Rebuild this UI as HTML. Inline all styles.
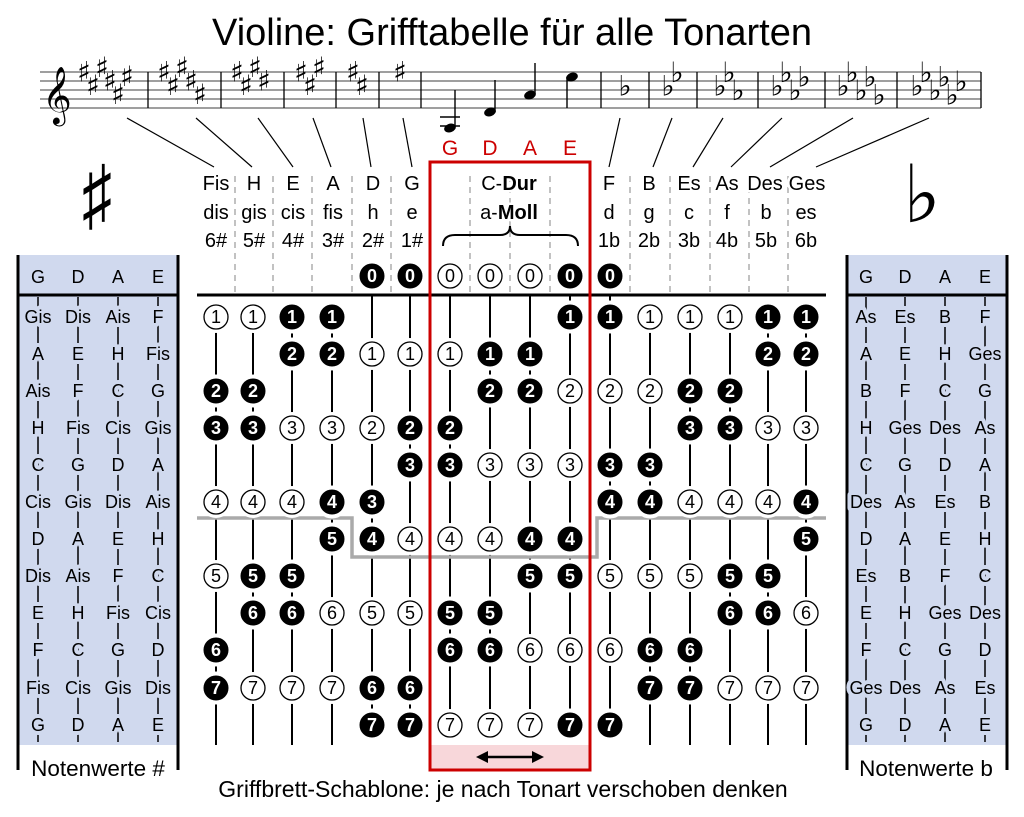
<!DOCTYPE html>
<html><head><meta charset="utf-8"><style>
html,body{margin:0;padding:0;background:#fff}
svg{display:block}
text{font-family:"Liberation Sans",sans-serif}
.tf{fill:#fff;font-weight:bold;font-size:18px;text-anchor:middle}
.to{fill:#000;font-size:18px;text-anchor:middle}
.h{font-size:20px;text-anchor:middle;paint-order:stroke;stroke:#fff;stroke-width:5px;stroke-linejoin:round}
.tb{font-size:18px;text-anchor:middle;paint-order:stroke;stroke:#d0d9ee;stroke-width:8px;stroke-linejoin:round}
.acc{font-family:"DejaVu Sans",sans-serif;font-size:28px;text-anchor:middle;dominant-baseline:central}
</style></head><body>
<svg width="1024" height="817" viewBox="0 0 1024 817" xmlns="http://www.w3.org/2000/svg">
<defs>
<circle id="F" r="14.5" fill="#000" stroke="#fff" stroke-width="4"/>
<g id="O"><circle r="16" fill="#fff"/><circle r="12" fill="#fff" stroke="#000" stroke-width="1.3"/></g>
</defs>
<text x="512" y="45" font-size="38" text-anchor="middle">Violine: Grifftabelle für alle Tonarten</text>
<g stroke="#666" stroke-width="1.3">
<line x1="40" y1="72" x2="981" y2="72"/><line x1="40" y1="81" x2="981" y2="81"/><line x1="40" y1="90" x2="981" y2="90"/><line x1="40" y1="99" x2="981" y2="99"/><line x1="40" y1="108" x2="981" y2="108"/>
</g>
<g stroke="#000" stroke-width="1.3">
<line x1="148" y1="72" x2="148" y2="108"/><line x1="221" y1="72" x2="221" y2="108"/><line x1="284" y1="72" x2="284" y2="108"/><line x1="336" y1="72" x2="336" y2="108"/><line x1="379" y1="72" x2="379" y2="108"/><line x1="421" y1="72" x2="421" y2="108"/><line x1="601" y1="72" x2="601" y2="108"/><line x1="649" y1="72" x2="649" y2="108"/><line x1="697" y1="72" x2="697" y2="108"/><line x1="758" y1="72" x2="758" y2="108"/><line x1="825" y1="72" x2="825" y2="108"/><line x1="897" y1="72" x2="897" y2="108"/><line x1="981" y1="72" x2="981" y2="108"/>
</g>
<text x="57" y="112" font-family="DejaVu Sans" font-size="50" text-anchor="middle">𝄞</text>
<g>
<text class="acc" x="84" y="72">♯</text><text class="acc" x="93" y="85.5">♯</text><text class="acc" x="102" y="67.5">♯</text><text class="acc" x="110" y="81">♯</text><text class="acc" x="118" y="94.5">♯</text><text class="acc" x="127" y="76.5">♯</text>
<text class="acc" x="164" y="72">♯</text><text class="acc" x="173" y="85.5">♯</text><text class="acc" x="182" y="67.5">♯</text><text class="acc" x="191" y="81">♯</text><text class="acc" x="200" y="94.5">♯</text>
<text class="acc" x="237" y="72">♯</text><text class="acc" x="246" y="85.5">♯</text><text class="acc" x="255" y="67.5">♯</text><text class="acc" x="264" y="81">♯</text>
<text class="acc" x="301" y="72">♯</text><text class="acc" x="310" y="85.5">♯</text><text class="acc" x="319" y="67.5">♯</text>
<text class="acc" x="353" y="72">♯</text><text class="acc" x="362" y="85.5">♯</text>
<text class="acc" x="400" y="72">♯</text>
<text class="acc" x="625" y="86">♭</text>
<text class="acc" x="668" y="86">♭</text><text class="acc" x="677" y="72.5">♭</text>
<text class="acc" x="720" y="86">♭</text><text class="acc" x="729" y="72.5">♭</text><text class="acc" x="738" y="90.5">♭</text>
<text class="acc" x="777" y="86">♭</text><text class="acc" x="786" y="72.5">♭</text><text class="acc" x="795" y="90.5">♭</text><text class="acc" x="804" y="77">♭</text>
<text class="acc" x="843" y="86">♭</text><text class="acc" x="852" y="72.5">♭</text><text class="acc" x="861" y="90.5">♭</text><text class="acc" x="870" y="77">♭</text><text class="acc" x="879" y="95">♭</text>
<text class="acc" x="917" y="86">♭</text><text class="acc" x="926" y="72.5">♭</text><text class="acc" x="935" y="90.5">♭</text><text class="acc" x="944" y="77">♭</text><text class="acc" x="952" y="95">♭</text><text class="acc" x="961" y="81.5">♭</text>
</g>
<g stroke="#000" stroke-width="1.4">
<line x1="440" y1="117" x2="460" y2="117"/><line x1="440" y1="126" x2="460" y2="126"/>
<line x1="455" y1="127" x2="455" y2="90"/><line x1="495" y1="112" x2="495" y2="80"/><line x1="535" y1="94" x2="535" y2="63"/><line x1="567" y1="77" x2="567" y2="108"/>
</g>
<g fill="#000">
<ellipse cx="450" cy="128" rx="6" ry="4.3" transform="rotate(-20 450 128)"/>
<ellipse cx="490" cy="112" rx="6" ry="4.3" transform="rotate(-20 490 112)"/>
<ellipse cx="530" cy="95" rx="6" ry="4.3" transform="rotate(-20 530 95)"/>
<ellipse cx="572" cy="77" rx="6" ry="4.3" transform="rotate(-20 572 77)"/>
</g>
<g stroke="#000" stroke-width="1.2">
<line x1="127" y1="118" x2="214" y2="167"/><line x1="196" y1="118" x2="252" y2="167"/><line x1="258" y1="118" x2="293" y2="167"/><line x1="313" y1="118" x2="331" y2="167"/><line x1="363" y1="118" x2="371" y2="167"/><line x1="403" y1="118" x2="412" y2="167"/>
<line x1="620" y1="118" x2="609" y2="167"/><line x1="672" y1="118" x2="653" y2="167"/><line x1="723" y1="118" x2="693" y2="167"/><line x1="782" y1="118" x2="731" y2="167"/><line x1="853" y1="118" x2="770" y2="167"/><line x1="929" y1="118" x2="816" y2="167"/>
</g>
<g fill="#c00" font-size="21" text-anchor="middle"><text x="450" y="155">G</text><text x="490" y="155">D</text><text x="530" y="155">A</text><text x="570" y="155">E</text></g>
<text x="97" y="222" font-family="DejaVu Sans" font-size="80" text-anchor="middle" transform="translate(97 0) scale(0.75 1) translate(-97 0)">♯</text>
<text x="922" y="222" font-family="DejaVu Sans" font-size="80" text-anchor="middle">♭</text>
<g stroke="#999" stroke-width="1.2" stroke-dasharray="6,5">
<line x1="235" y1="176" x2="235" y2="292"/><line x1="273" y1="176" x2="273" y2="292"/><line x1="312" y1="176" x2="312" y2="292"/><line x1="352" y1="176" x2="352" y2="292"/><line x1="391" y1="176" x2="391" y2="292"/>
<line x1="470" y1="176" x2="470" y2="292"/><line x1="510" y1="176" x2="510" y2="292"/><line x1="550" y1="176" x2="550" y2="292"/>
<line x1="630" y1="176" x2="630" y2="292"/><line x1="670" y1="176" x2="670" y2="292"/><line x1="710" y1="176" x2="710" y2="292"/><line x1="749" y1="176" x2="749" y2="292"/><line x1="788" y1="176" x2="788" y2="292"/>
</g>
<g>
<text class="h" x="216" y="190">Fis</text><text class="h" x="216" y="219">dis</text><text class="h" x="216" y="247">6#</text>
<text class="h" x="254" y="190">H</text><text class="h" x="254" y="219">gis</text><text class="h" x="254" y="247">5#</text>
<text class="h" x="293" y="190">E</text><text class="h" x="293" y="219">cis</text><text class="h" x="293" y="247">4#</text>
<text class="h" x="333" y="190">A</text><text class="h" x="333" y="219">fis</text><text class="h" x="333" y="247">3#</text>
<text class="h" x="373" y="190">D</text><text class="h" x="373" y="219">h</text><text class="h" x="373" y="247">2#</text>
<text class="h" x="412" y="190">G</text><text class="h" x="412" y="219">e</text><text class="h" x="412" y="247">1#</text>
<text class="h" x="509" y="190">C-<tspan font-weight="bold">Dur</tspan></text><text class="h" x="509" y="219">a-<tspan font-weight="bold">Moll</tspan></text>
<text class="h" x="609" y="190">F</text><text class="h" x="609" y="219">d</text><text class="h" x="609" y="247">1b</text>
<text class="h" x="649" y="190">B</text><text class="h" x="649" y="219">g</text><text class="h" x="649" y="247">2b</text>
<text class="h" x="689" y="190">Es</text><text class="h" x="689" y="219">c</text><text class="h" x="689" y="247">3b</text>
<text class="h" x="727" y="190">As</text><text class="h" x="727" y="219">f</text><text class="h" x="727" y="247">4b</text>
<text class="h" x="765" y="190">Des</text><text class="h" x="766" y="219">b</text><text class="h" x="766" y="247">5b</text>
<text class="h" x="807" y="190">Ges</text><text class="h" x="806" y="219">es</text><text class="h" x="806" y="247">6b</text>
</g>
<path d="M443,246 Q443,235 455,235 L500,235 Q510,235 510,226 Q510,235 520,235 L566,235 Q578,235 578,246" fill="none" stroke="#000" stroke-width="2"/>
<rect x="18" y="255" width="160" height="490" fill="#d0d9ee"/>
<rect x="847" y="255" width="160" height="490" fill="#d0d9ee"/>
<g stroke="#000" stroke-width="1.5">
<line x1="38" y1="297" x2="38" y2="742"/><line x1="78" y1="297" x2="78" y2="742"/><line x1="118" y1="297" x2="118" y2="742"/><line x1="158" y1="297" x2="158" y2="742"/>
<line x1="866" y1="297" x2="866" y2="742"/><line x1="905" y1="297" x2="905" y2="742"/><line x1="945" y1="297" x2="945" y2="742"/><line x1="985" y1="297" x2="985" y2="742"/>
</g>
<g stroke="#000" stroke-width="3">
<line x1="18" y1="255" x2="18" y2="770"/><line x1="178" y1="255" x2="178" y2="770"/><line x1="18" y1="295" x2="178" y2="295"/>
<line x1="847" y1="255" x2="847" y2="770"/><line x1="1007" y1="255" x2="1007" y2="770"/><line x1="847" y1="295" x2="1007" y2="295"/>
<line x1="197" y1="295" x2="826" y2="295"/>
</g>
<g>
<text class="tb" x="38" y="283">G</text><text class="tb" x="78" y="283">D</text><text class="tb" x="118" y="283">A</text><text class="tb" x="158" y="283">E</text>
<text class="tb" x="38" y="323">Gis</text><text class="tb" x="78" y="323">Dis</text><text class="tb" x="118" y="323">Ais</text><text class="tb" x="158" y="323">F</text>
<text class="tb" x="38" y="360">A</text><text class="tb" x="78" y="360">E</text><text class="tb" x="118" y="360">H</text><text class="tb" x="158" y="360">Fis</text>
<text class="tb" x="38" y="397">Ais</text><text class="tb" x="78" y="397">F</text><text class="tb" x="118" y="397">C</text><text class="tb" x="158" y="397">G</text>
<text class="tb" x="38" y="434">H</text><text class="tb" x="78" y="434">Fis</text><text class="tb" x="118" y="434">Cis</text><text class="tb" x="158" y="434">Gis</text>
<text class="tb" x="38" y="471">C</text><text class="tb" x="78" y="471">G</text><text class="tb" x="118" y="471">D</text><text class="tb" x="158" y="471">A</text>
<text class="tb" x="38" y="508">Cis</text><text class="tb" x="78" y="508">Gis</text><text class="tb" x="118" y="508">Dis</text><text class="tb" x="158" y="508">Ais</text>
<text class="tb" x="38" y="545">D</text><text class="tb" x="78" y="545">A</text><text class="tb" x="118" y="545">E</text><text class="tb" x="158" y="545">H</text>
<text class="tb" x="38" y="582">Dis</text><text class="tb" x="78" y="582">Ais</text><text class="tb" x="118" y="582">F</text><text class="tb" x="158" y="582">C</text>
<text class="tb" x="38" y="619">E</text><text class="tb" x="78" y="619">H</text><text class="tb" x="118" y="619">Fis</text><text class="tb" x="158" y="619">Cis</text>
<text class="tb" x="38" y="656">F</text><text class="tb" x="78" y="656">C</text><text class="tb" x="118" y="656">G</text><text class="tb" x="158" y="656">D</text>
<text class="tb" x="38" y="694">Fis</text><text class="tb" x="78" y="694">Cis</text><text class="tb" x="118" y="694">Gis</text><text class="tb" x="158" y="694">Dis</text>
<text class="tb" x="38" y="731">G</text><text class="tb" x="78" y="731">D</text><text class="tb" x="118" y="731">A</text><text class="tb" x="158" y="731">E</text>
<text class="tb" x="866" y="283">G</text><text class="tb" x="905" y="283">D</text><text class="tb" x="945" y="283">A</text><text class="tb" x="985" y="283">E</text>
<text class="tb" x="866" y="323">As</text><text class="tb" x="905" y="323">Es</text><text class="tb" x="945" y="323">B</text><text class="tb" x="985" y="323">F</text>
<text class="tb" x="866" y="360">A</text><text class="tb" x="905" y="360">E</text><text class="tb" x="945" y="360">H</text><text class="tb" x="985" y="360">Ges</text>
<text class="tb" x="866" y="397">B</text><text class="tb" x="905" y="397">F</text><text class="tb" x="945" y="397">C</text><text class="tb" x="985" y="397">G</text>
<text class="tb" x="866" y="434">H</text><text class="tb" x="905" y="434">Ges</text><text class="tb" x="945" y="434">Des</text><text class="tb" x="985" y="434">As</text>
<text class="tb" x="866" y="471">C</text><text class="tb" x="905" y="471">G</text><text class="tb" x="945" y="471">D</text><text class="tb" x="985" y="471">A</text>
<text class="tb" x="866" y="508">Des</text><text class="tb" x="905" y="508">As</text><text class="tb" x="945" y="508">Es</text><text class="tb" x="985" y="508">B</text>
<text class="tb" x="866" y="545">D</text><text class="tb" x="905" y="545">A</text><text class="tb" x="945" y="545">E</text><text class="tb" x="985" y="545">H</text>
<text class="tb" x="866" y="582">Es</text><text class="tb" x="905" y="582">B</text><text class="tb" x="945" y="582">F</text><text class="tb" x="985" y="582">C</text>
<text class="tb" x="866" y="619">E</text><text class="tb" x="905" y="619">H</text><text class="tb" x="945" y="619">Ges</text><text class="tb" x="985" y="619">Des</text>
<text class="tb" x="866" y="656">F</text><text class="tb" x="905" y="656">C</text><text class="tb" x="945" y="656">G</text><text class="tb" x="985" y="656">D</text>
<text class="tb" x="866" y="694">Ges</text><text class="tb" x="905" y="694">Des</text><text class="tb" x="945" y="694">As</text><text class="tb" x="985" y="694">Es</text>
<text class="tb" x="866" y="731">G</text><text class="tb" x="905" y="731">D</text><text class="tb" x="945" y="731">A</text><text class="tb" x="985" y="731">E</text>
</g>
<rect x="431" y="745" width="158" height="24" fill="#f8d7da"/>
<g stroke="#000" stroke-width="2">
<line x1="216" y1="317" x2="216" y2="745"/><line x1="253" y1="317" x2="253" y2="745"/><line x1="292" y1="317" x2="292" y2="745"/><line x1="332" y1="317" x2="332" y2="745"/>
<line x1="372" y1="295" x2="372" y2="725"/><line x1="410" y1="295" x2="410" y2="725"/><line x1="450" y1="295" x2="450" y2="725"/><line x1="490" y1="295" x2="490" y2="725"/><line x1="530" y1="295" x2="530" y2="725"/><line x1="570" y1="295" x2="570" y2="725"/><line x1="610" y1="295" x2="610" y2="725"/>
<line x1="650" y1="317" x2="650" y2="745"/><line x1="690" y1="317" x2="690" y2="745"/><line x1="730" y1="317" x2="730" y2="745"/><line x1="768" y1="317" x2="768" y2="745"/><line x1="806" y1="317" x2="806" y2="745"/>
</g>
<polyline points="197,518 352,518 352,557 597,557 597,518 826,518" fill="none" stroke="#aaa" stroke-width="3.5"/>
<g>
<use href="#O" x="216" y="317"/><text class="to" x="216" y="323">1</text>
<use href="#F" x="216" y="391"/><text class="tf" x="216" y="397">2</text>
<use href="#F" x="216" y="428"/><text class="tf" x="216" y="434">3</text>
<use href="#O" x="216" y="502"/><text class="to" x="216" y="508">4</text>
<use href="#O" x="216" y="576"/><text class="to" x="216" y="582">5</text>
<use href="#F" x="216" y="650"/><text class="tf" x="216" y="656">6</text>
<use href="#F" x="216" y="688"/><text class="tf" x="216" y="694">7</text>
<use href="#O" x="253" y="317"/><text class="to" x="253" y="323">1</text>
<use href="#F" x="253" y="391"/><text class="tf" x="253" y="397">2</text>
<use href="#F" x="253" y="428"/><text class="tf" x="253" y="434">3</text>
<use href="#O" x="253" y="502"/><text class="to" x="253" y="508">4</text>
<use href="#F" x="253" y="576"/><text class="tf" x="253" y="582">5</text>
<use href="#F" x="253" y="613"/><text class="tf" x="253" y="619">6</text>
<use href="#O" x="253" y="688"/><text class="to" x="253" y="694">7</text>
<use href="#F" x="292" y="317"/><text class="tf" x="292" y="323">1</text>
<use href="#F" x="292" y="354"/><text class="tf" x="292" y="360">2</text>
<use href="#O" x="292" y="428"/><text class="to" x="292" y="434">3</text>
<use href="#O" x="292" y="502"/><text class="to" x="292" y="508">4</text>
<use href="#F" x="292" y="576"/><text class="tf" x="292" y="582">5</text>
<use href="#F" x="292" y="613"/><text class="tf" x="292" y="619">6</text>
<use href="#O" x="292" y="688"/><text class="to" x="292" y="694">7</text>
<use href="#F" x="332" y="317"/><text class="tf" x="332" y="323">1</text>
<use href="#F" x="332" y="354"/><text class="tf" x="332" y="360">2</text>
<use href="#O" x="332" y="428"/><text class="to" x="332" y="434">3</text>
<use href="#F" x="332" y="502"/><text class="tf" x="332" y="508">4</text>
<use href="#F" x="332" y="539"/><text class="tf" x="332" y="545">5</text>
<use href="#O" x="332" y="613"/><text class="to" x="332" y="619">6</text>
<use href="#O" x="332" y="688"/><text class="to" x="332" y="694">7</text>
<use href="#F" x="372" y="276"/><text class="tf" x="372" y="282">0</text>
<use href="#O" x="372" y="354"/><text class="to" x="372" y="360">1</text>
<use href="#O" x="372" y="428"/><text class="to" x="372" y="434">2</text>
<use href="#F" x="372" y="502"/><text class="tf" x="372" y="508">3</text>
<use href="#F" x="372" y="539"/><text class="tf" x="372" y="545">4</text>
<use href="#O" x="372" y="613"/><text class="to" x="372" y="619">5</text>
<use href="#F" x="372" y="688"/><text class="tf" x="372" y="694">6</text>
<use href="#F" x="372" y="725"/><text class="tf" x="372" y="731">7</text>
<use href="#F" x="410" y="276"/><text class="tf" x="410" y="282">0</text>
<use href="#O" x="410" y="354"/><text class="to" x="410" y="360">1</text>
<use href="#F" x="410" y="428"/><text class="tf" x="410" y="434">2</text>
<use href="#F" x="410" y="465"/><text class="tf" x="410" y="471">3</text>
<use href="#O" x="410" y="539"/><text class="to" x="410" y="545">4</text>
<use href="#O" x="410" y="613"/><text class="to" x="410" y="619">5</text>
<use href="#F" x="410" y="688"/><text class="tf" x="410" y="694">6</text>
<use href="#F" x="410" y="725"/><text class="tf" x="410" y="731">7</text>
<use href="#O" x="450" y="276"/><text class="to" x="450" y="282">0</text>
<use href="#O" x="450" y="354"/><text class="to" x="450" y="360">1</text>
<use href="#F" x="450" y="428"/><text class="tf" x="450" y="434">2</text>
<use href="#F" x="450" y="465"/><text class="tf" x="450" y="471">3</text>
<use href="#O" x="450" y="539"/><text class="to" x="450" y="545">4</text>
<use href="#F" x="450" y="613"/><text class="tf" x="450" y="619">5</text>
<use href="#F" x="450" y="650"/><text class="tf" x="450" y="656">6</text>
<use href="#O" x="450" y="725"/><text class="to" x="450" y="731">7</text>
<use href="#O" x="490" y="276"/><text class="to" x="490" y="282">0</text>
<use href="#F" x="490" y="354"/><text class="tf" x="490" y="360">1</text>
<use href="#F" x="490" y="391"/><text class="tf" x="490" y="397">2</text>
<use href="#O" x="490" y="465"/><text class="to" x="490" y="471">3</text>
<use href="#O" x="490" y="539"/><text class="to" x="490" y="545">4</text>
<use href="#F" x="490" y="613"/><text class="tf" x="490" y="619">5</text>
<use href="#F" x="490" y="650"/><text class="tf" x="490" y="656">6</text>
<use href="#O" x="490" y="725"/><text class="to" x="490" y="731">7</text>
<use href="#O" x="530" y="276"/><text class="to" x="530" y="282">0</text>
<use href="#F" x="530" y="354"/><text class="tf" x="530" y="360">1</text>
<use href="#F" x="530" y="391"/><text class="tf" x="530" y="397">2</text>
<use href="#O" x="530" y="465"/><text class="to" x="530" y="471">3</text>
<use href="#F" x="530" y="539"/><text class="tf" x="530" y="545">4</text>
<use href="#F" x="530" y="576"/><text class="tf" x="530" y="582">5</text>
<use href="#O" x="530" y="650"/><text class="to" x="530" y="656">6</text>
<use href="#O" x="530" y="725"/><text class="to" x="530" y="731">7</text>
<use href="#F" x="570" y="276"/><text class="tf" x="570" y="282">0</text>
<use href="#F" x="570" y="317"/><text class="tf" x="570" y="323">1</text>
<use href="#O" x="570" y="391"/><text class="to" x="570" y="397">2</text>
<use href="#O" x="570" y="465"/><text class="to" x="570" y="471">3</text>
<use href="#F" x="570" y="539"/><text class="tf" x="570" y="545">4</text>
<use href="#F" x="570" y="576"/><text class="tf" x="570" y="582">5</text>
<use href="#O" x="570" y="650"/><text class="to" x="570" y="656">6</text>
<use href="#F" x="570" y="725"/><text class="tf" x="570" y="731">7</text>
<use href="#F" x="610" y="276"/><text class="tf" x="610" y="282">0</text>
<use href="#F" x="610" y="317"/><text class="tf" x="610" y="323">1</text>
<use href="#O" x="610" y="391"/><text class="to" x="610" y="397">2</text>
<use href="#F" x="610" y="465"/><text class="tf" x="610" y="471">3</text>
<use href="#F" x="610" y="502"/><text class="tf" x="610" y="508">4</text>
<use href="#O" x="610" y="576"/><text class="to" x="610" y="582">5</text>
<use href="#O" x="610" y="650"/><text class="to" x="610" y="656">6</text>
<use href="#F" x="610" y="725"/><text class="tf" x="610" y="731">7</text>
<use href="#O" x="650" y="317"/><text class="to" x="650" y="323">1</text>
<use href="#O" x="650" y="391"/><text class="to" x="650" y="397">2</text>
<use href="#F" x="650" y="465"/><text class="tf" x="650" y="471">3</text>
<use href="#F" x="650" y="502"/><text class="tf" x="650" y="508">4</text>
<use href="#O" x="650" y="576"/><text class="to" x="650" y="582">5</text>
<use href="#F" x="650" y="650"/><text class="tf" x="650" y="656">6</text>
<use href="#F" x="650" y="688"/><text class="tf" x="650" y="694">7</text>
<use href="#O" x="690" y="317"/><text class="to" x="690" y="323">1</text>
<use href="#F" x="690" y="391"/><text class="tf" x="690" y="397">2</text>
<use href="#F" x="690" y="428"/><text class="tf" x="690" y="434">3</text>
<use href="#O" x="690" y="502"/><text class="to" x="690" y="508">4</text>
<use href="#O" x="690" y="576"/><text class="to" x="690" y="582">5</text>
<use href="#F" x="690" y="650"/><text class="tf" x="690" y="656">6</text>
<use href="#F" x="690" y="688"/><text class="tf" x="690" y="694">7</text>
<use href="#O" x="730" y="317"/><text class="to" x="730" y="323">1</text>
<use href="#F" x="730" y="391"/><text class="tf" x="730" y="397">2</text>
<use href="#F" x="730" y="428"/><text class="tf" x="730" y="434">3</text>
<use href="#O" x="730" y="502"/><text class="to" x="730" y="508">4</text>
<use href="#F" x="730" y="576"/><text class="tf" x="730" y="582">5</text>
<use href="#F" x="730" y="613"/><text class="tf" x="730" y="619">6</text>
<use href="#O" x="730" y="688"/><text class="to" x="730" y="694">7</text>
<use href="#F" x="768" y="317"/><text class="tf" x="768" y="323">1</text>
<use href="#F" x="768" y="354"/><text class="tf" x="768" y="360">2</text>
<use href="#O" x="768" y="428"/><text class="to" x="768" y="434">3</text>
<use href="#O" x="768" y="502"/><text class="to" x="768" y="508">4</text>
<use href="#F" x="768" y="576"/><text class="tf" x="768" y="582">5</text>
<use href="#F" x="768" y="613"/><text class="tf" x="768" y="619">6</text>
<use href="#O" x="768" y="688"/><text class="to" x="768" y="694">7</text>
<use href="#F" x="806" y="317"/><text class="tf" x="806" y="323">1</text>
<use href="#F" x="806" y="354"/><text class="tf" x="806" y="360">2</text>
<use href="#O" x="806" y="428"/><text class="to" x="806" y="434">3</text>
<use href="#F" x="806" y="502"/><text class="tf" x="806" y="508">4</text>
<use href="#F" x="806" y="539"/><text class="tf" x="806" y="545">5</text>
<use href="#O" x="806" y="613"/><text class="to" x="806" y="619">6</text>
<use href="#O" x="806" y="688"/><text class="to" x="806" y="694">7</text>
</g>
<rect x="430" y="162" width="160" height="608" fill="none" stroke="#c00" stroke-width="3"/>
<g stroke="#000" stroke-width="2.5"><line x1="482" y1="757" x2="538" y2="757"/></g>
<path d="M476,757 L488,751 L488,763 Z M544,757 L532,751 L532,763 Z" fill="#000"/>
<text x="98" y="776" font-size="22.5" text-anchor="middle">Notenwerte #</text>
<text x="926" y="776" font-size="22.5" text-anchor="middle">Notenwerte b</text>
<text x="503" y="797" font-size="23" text-anchor="middle">Griffbrett-Schablone: je nach Tonart verschoben denken</text>
</svg>
</body></html>
